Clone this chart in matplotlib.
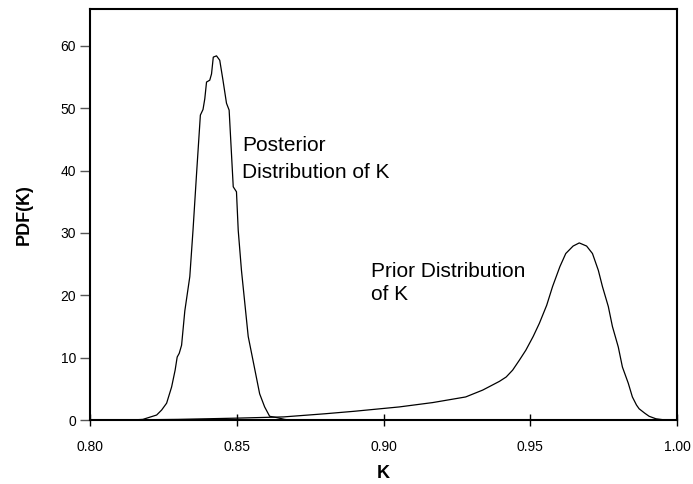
import matplotlib
matplotlib.use("Agg")
import matplotlib.pyplot as plt
from matplotlib.ticker import FormatStrFormatter

plt.rcParams['font.family'] = ['Liberation Sans', 'DejaVu Sans']

# Posterior distribution of K
post_k = [0.814, 0.818, 0.820, 0.8227, 0.8244, 0.8261, 0.8278, 0.8290, 0.8297,
          0.8304, 0.8312, 0.8323, 0.8340, 0.8351, 0.8363, 0.8376, 0.8385, 0.8391,
          0.8397, 0.8408, 0.8414, 0.8420, 0.8431, 0.8442, 0.8453, 0.8465, 0.8474,
          0.8488, 0.8499, 0.8505, 0.8516, 0.8539, 0.8556, 0.8578, 0.8595, 0.8612,
          0.8635, 0.8663, 0.868]
post_pdf = [0.0, 0.1, 0.4, 0.8, 1.6, 2.7, 5.3, 8.0, 10.1,
            10.7, 12.0, 17.5, 23.0, 30.5, 39.5, 48.9, 49.8, 51.5,
            54.2, 54.5, 55.5, 58.2, 58.4, 57.7, 54.5, 50.8, 49.7,
            37.4, 36.6, 30.4, 24.0, 13.4, 9.4, 4.2, 2.1, 0.6,
            0.4, 0.1, 0.0]

# Prior distribution of K
prior_k = [0.81, 0.83, 0.85, 0.866, 0.88, 0.89, 0.9054, 0.9168, 0.928, 0.9338,
           0.9395, 0.9418, 0.9440, 0.9463, 0.9485, 0.9510, 0.9531, 0.9556,
           0.9576, 0.9601, 0.9621, 0.9646, 0.9667, 0.9692, 0.9712, 0.9732,
           0.9746, 0.9766, 0.9780, 0.9800, 0.9814, 0.9834, 0.9848, 0.9862,
           0.9871, 0.9890, 0.9905, 0.9928, 0.996]
prior_pdf = [0.0, 0.1, 0.3, 0.5, 1.0, 1.4, 2.1, 2.8, 3.7, 4.8,
             6.2, 6.9, 8.0, 9.6, 11.2, 13.4, 15.5, 18.4,
             21.4, 24.6, 26.7, 27.9, 28.4, 27.9, 26.7, 24.0,
             21.4, 18.2, 15.0, 11.7, 8.5, 5.9, 3.7, 2.4,
             1.8, 1.1, 0.6, 0.2, 0.0]

x_ticks = [0.80, 0.85, 0.90, 0.95, 1.00]
y_ticks = [0, 10, 20, 30, 40, 50, 60]

fig = plt.figure(figsize=(6.93, 4.84), dpi=100)
ax = fig.add_axes([0.1299, 0.1322, 0.847, 0.849])

ax.plot(post_k, post_pdf, color='black', lw=0.9)
ax.plot(prior_k, prior_pdf, color='black', lw=0.9)

ax.set_xlim(0.80, 1.00)
ax.set_ylim(0, 65.9)
ax.set_xticks(x_ticks)
ax.set_yticks(y_ticks)
ax.xaxis.set_major_formatter(FormatStrFormatter('%.2f'))

for s in ax.spines.values():
    s.set_linewidth(1.5)
ax.tick_params(axis='x', direction='inout', length=9, width=1, labelsize=10, pad=10)
ax.tick_params(axis='y', direction='out', length=7, width=1, color='#555555', labelsize=10, pad=3)

ax.set_xlabel('K', fontsize=13, fontweight='bold', labelpad=8)
ax.set_ylabel('PDF(K)', fontsize=13, fontweight='bold', labelpad=20)

ax.text(0.8518, 38.8, 'Posterior\nDistribution of K', fontsize=15,
        va='baseline', ha='left', linespacing=1.55)
ax.text(0.8956, 19.2, 'Prior Distribution\nof K', fontsize=15,
        va='baseline', ha='left', linespacing=1.3)

fig.savefig('out.png', dpi=100)
